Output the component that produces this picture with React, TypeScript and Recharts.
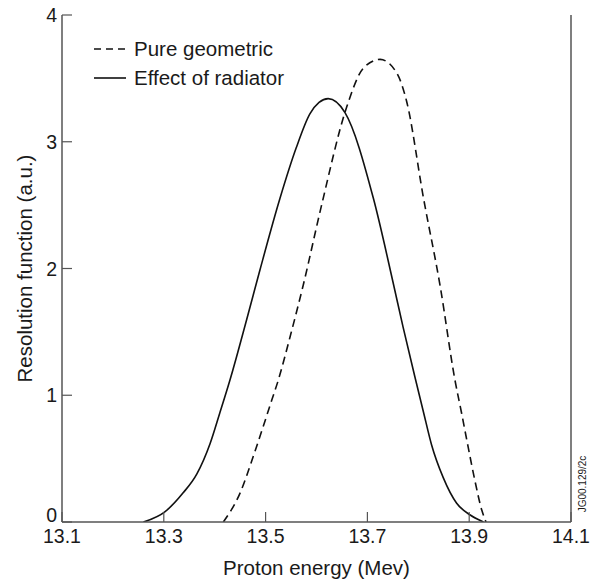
import React from 'react';
import { LineChart, Line, XAxis, YAxis, Legend, Label } from 'recharts';

const energyTicks = [13.1, 13.3, 13.5, 13.7, 13.9, 14.1];
const resolutionTicks = [0, 1, 2, 3, 4];

const geometricEnergy = [13.417, 13.450, 13.476, 13.495, 13.512, 13.525, 13.548, 13.574, 13.610, 13.659, 13.692, 13.725, 13.758, 13.777, 13.810, 13.843, 13.872, 13.885, 13.898, 13.911, 13.925, 13.933];
const geometricValue = [0, 0.23, 0.52, 0.75, 0.96, 1.12, 1.46, 1.87, 2.5, 3.27, 3.58, 3.65, 3.54, 3.32, 2.56, 1.86, 1.12, 0.86, 0.59, 0.33, 0.09, 0];

const radiatorEnergy = [13.260, 13.302, 13.338, 13.365, 13.391, 13.410, 13.430, 13.463, 13.489, 13.528, 13.560, 13.587, 13.605, 13.623, 13.656, 13.712, 13.751, 13.770, 13.793, 13.810, 13.826, 13.849, 13.875, 13.902, 13.928];
const radiatorValue = [0, 0.08, 0.23, 0.38, 0.62, 0.86, 1.12, 1.6, 1.99, 2.55, 2.95, 3.22, 3.31, 3.34, 3.23, 2.55, 1.88, 1.54, 1.15, 0.87, 0.61, 0.35, 0.15, 0.055, 0];

const seriesNames = ['Pure geometric', 'Effect of radiator'];

const geometricData = geometricEnergy.map((x, i) => ({ x, y: geometricValue[i] }));
const radiatorData = radiatorEnergy.map((x, i) => ({ x, y: radiatorValue[i] }));

const FONT = '"Liberation Sans", Arial, Helvetica, sans-serif';
const TEXT = '#1a1a1a';
const AXIS = '#555';
const INK = '#111';

const renderLegend = () => (
  <div style={{ fontFamily: FONT, fontSize: 20.5, color: TEXT, lineHeight: '29px' }}>
    {seriesNames.map((name, i) => (
      <div key={name} style={{ display: 'flex', alignItems: 'center', height: 29 }}>
        <svg width={40} height={10} style={{ display: 'block' }}>
          <line x1={0} x2={32} y1={5} y2={5} stroke={INK} strokeWidth={1.6} strokeDasharray={i === 0 ? '7 5' : undefined} />
        </svg>
        <span>{name}</span>
      </div>
    ))}
  </div>
);

const codeLabel = (props: any) => {
  const vb = props.viewBox || {};
  const cx = vb.x + vb.width / 2 + 1;
  const cy = vb.y + vb.height - 38;
  return (
    <text x={cx} y={cy} transform={`rotate(-90, ${cx}, ${cy})`} textAnchor="middle" dominantBaseline="central" fontFamily={FONT} fontSize={10} fill={TEXT}>
      JG00.129/2c
    </text>
  );
};

const yTick = (props: any) => {
  const { x, y, payload } = props;
  const shift = payload.value === 0 ? -7 : 0;
  return (
    <text x={x} y={y + shift} textAnchor="end" dominantBaseline="central" fontFamily={FONT} fontSize={19.5} fill={TEXT}>
      {payload.value}
    </text>
  );
};

export default function App() {
  return (
    <div style={{ position: 'absolute', left: 0, top: 0, background: '#fff' }}>
      <LineChart width={592} height={583} margin={{ top: 15, right: 0, bottom: 0, left: 0 }}>
        <XAxis
          xAxisId="main"
          dataKey="x"
          type="number"
          domain={[13.1, 14.1]}
          ticks={energyTicks}
          tickFormatter={(v: number) => v.toFixed(1)}
          allowDataOverflow
          height={61}
          tickSize={-10}
          tickMargin={17}
          axisLine={{ stroke: AXIS, strokeWidth: 1.5 }}
          tickLine={{ stroke: AXIS, strokeWidth: 1.2 }}
          tick={{ fill: TEXT, fontSize: 19.5, fontFamily: FONT }}
        >
          <Label value="Proton energy (Mev)" position="insideBottom" offset={8} style={{ fill: TEXT, fontSize: 20.5, fontFamily: FONT }} />
        </XAxis>
        <XAxis
          xAxisId="top"
          orientation="top"
          type="number"
          domain={[13.1, 14.1]}
          height={0}
          tick={false}
          tickLine={false}
          axisLine={{ stroke: AXIS, strokeWidth: 1.5 }}
        />
        <YAxis
          yAxisId="main"
          type="number"
          domain={[0, 4]}
          ticks={resolutionTicks}
          allowDataOverflow
          width={62}
          tickSize={-10}
          tickMargin={15}
          axisLine={{ stroke: AXIS, strokeWidth: 1.5 }}
          tickLine={{ stroke: AXIS, strokeWidth: 1.2 }}
          tick={yTick}
        >
          <Label value="Resolution function (a.u.)" angle={-90} position="center" dx={-6} style={{ fill: TEXT, fontSize: 20.5, fontFamily: FONT, textAnchor: 'middle' }} />
        </YAxis>
        <YAxis
          yAxisId="right"
          orientation="right"
          type="number"
          domain={[0, 4]}
          width={21}
          tick={false}
          tickLine={false}
          axisLine={{ stroke: AXIS, strokeWidth: 1.5 }}
        >
          <Label content={codeLabel} />
        </YAxis>
        <Legend
          layout="horizontal"
          verticalAlign="middle"
          align="center"
          content={renderLegend}
          wrapperStyle={{ left: 94, top: 34, width: 260 }}
        />
        <Line
          xAxisId="main"
          yAxisId="main"
          data={geometricData}
          dataKey="y"
          name={seriesNames[0]}
          type="monotone"
          stroke={INK}
          strokeWidth={1.6}
          strokeDasharray="8 5"
          dot={false}
          isAnimationActive={false}
        />
        <Line
          xAxisId="main"
          yAxisId="main"
          data={radiatorData}
          dataKey="y"
          name={seriesNames[1]}
          type="monotone"
          stroke={INK}
          strokeWidth={1.6}
          dot={false}
          isAnimationActive={false}
        />
      </LineChart>
    </div>
  );
}
